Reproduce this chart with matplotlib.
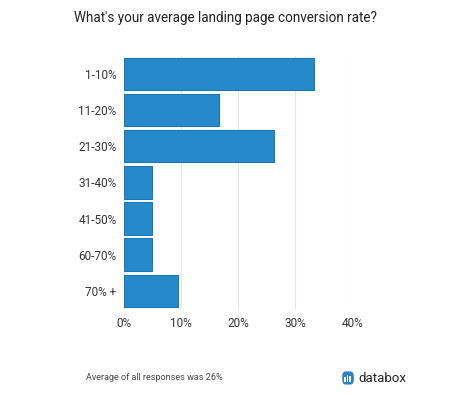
import matplotlib.pyplot as plt
from matplotlib.patches import FancyBboxPatch
import numpy as np

categories = ["1-10%", "11-20%", "21-30%", "31-40%", "41-50%", "60-70%", "70% +"]
values = [33.3, 16.7, 26.2, 4.8, 4.8, 4.8, 9.5]
xticks = [0, 10, 20, 30, 40]
xtick_labels = ["0%", "10%", "20%", "30%", "40%"]

plt.rcParams['font.family'] = ['Roboto', 'DejaVu Sans']

fig = plt.figure(figsize=(4.5, 3.95), dpi=100)
ax = fig.add_axes([124.3 / 450, 1 - 309 / 395, (352.3 - 124.3) / 450, (309 - 55.7) / 395])

y = np.arange(len(categories))
ax.barh(y, values, height=0.9, color="#2589ca", edgecolor="#1b78b8", linewidth=0.8, zorder=3)

ax.set_xlim(0, 40)
ax.set_ylim(len(categories) - 0.5, -0.5)
ax.set_yticks(y)
ax.set_yticklabels(categories)
ax.set_xticks(xticks)
ax.set_xticklabels(xtick_labels)
ax.tick_params(axis="both", length=0, labelsize=8.5, labelcolor="#333333")
ax.tick_params(axis="y", pad=5.5)
ax.tick_params(axis="x", pad=6)
ax.grid(axis="x", color="#e6e6e6", linewidth=0.8, zorder=0)
for s in ax.spines.values():
    s.set_visible(False)

fig.text(0.5, 1 - 18 / 395, "What's your average landing page conversion rate?",
         ha="center", va="center", fontsize=9.75, color="#222222")
fig.text(86 / 450, 1 - 378 / 395, "Average of all responses was 26%",
         ha="left", va="center", fontsize=6.5, color="#444444")

# databox logo
logo = fig.add_axes([342 / 450, 1 - 385 / 395, 12 / 450, 14 / 395])
logo.set_xlim(0, 1)
logo.set_ylim(0, 1)
logo.axis("off")
logo.add_patch(FancyBboxPatch((0.08, 0.08), 0.84, 0.84, boxstyle="round,pad=0.0,rounding_size=0.25",
                              color="#2b7fc6"))
for bx, bh in [(0.25, 0.35), (0.45, 0.55), (0.65, 0.45)]:
    logo.bar(bx, bh, width=0.12, bottom=0.2, color="white")
fig.text(358 / 450, 1 - 378 / 395, "databox", ha="left", va="center",
         fontsize=9.5, color="#222222")

fig.savefig("out.png", dpi=100)
